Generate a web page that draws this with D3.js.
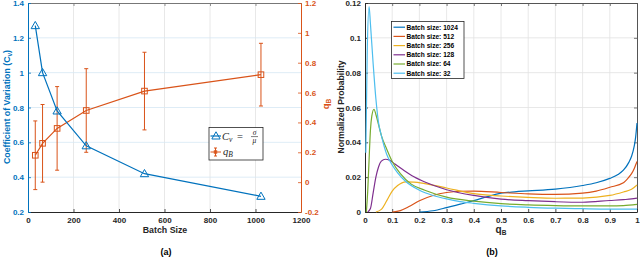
<!DOCTYPE html>
<html>
<head>
<meta charset="utf-8">
<script src="https://cdn.jsdelivr.net/npm/d3@7"></script>
<style>
body { margin: 0; background: #fff; }
svg { display: block; font-family: "Liberation Sans", Arial, sans-serif; }
</style>
</head>
<body>
<div id="chart"></div>
<script>
// ---- (a) Cv and q_B vs batch size ----
const batchSizes = [32, 64, 128, 256, 512, 1024];
const cvValues = [1.27, 1.0, 0.78, 0.58, 0.42, 0.29];
const qbMean = [0.18, 0.26, 0.36, 0.48, 0.61, 0.72];
const qbErr = [0.23, 0.26, 0.28, 0.28, 0.26, 0.21];
const xTicksA = [0, 200, 400, 600, 800, 1000, 1200];
const yTicksCv = [0.2, 0.4, 0.6, 0.8, 1, 1.2, 1.4];
const yTicksQb = [-0.2, 0, 0.2, 0.4, 0.6, 0.8, 1, 1.2];

// ---- (b) normalized probability of q_B ----
const q1024 = [0.2, 0.25, 0.3, 0.35, 0.4, 0.45, 0.5, 0.55, 0.6, 0.7, 0.8, 0.85, 0.9, 0.93, 0.95, 0.97, 0.98, 0.99, 0.995, 1.0];
const p1024 = [0, 0.0007, 0.0025, 0.0045, 0.0065, 0.0088, 0.0108, 0.0116, 0.0121, 0.0131, 0.0152, 0.0168, 0.0193, 0.0215, 0.024, 0.0285, 0.032, 0.038, 0.043, 0.051];
const q512 = [0.1, 0.13, 0.16, 0.2, 0.25, 0.3, 0.35, 0.4, 0.5, 0.6, 0.7, 0.8, 0.85, 0.9, 0.95, 0.97, 0.98, 0.99, 1.0];
const p512 = [0, 0.0008, 0.003, 0.0065, 0.0095, 0.0112, 0.0119, 0.012, 0.0112, 0.0104, 0.0101, 0.0108, 0.012, 0.0142, 0.0168, 0.02, 0.022, 0.025, 0.029];
const q256 = [0.04, 0.06, 0.08, 0.1, 0.12, 0.15, 0.18, 0.22, 0.3, 0.4, 0.5, 0.6, 0.7, 0.8, 0.9, 0.95, 0.98, 1.0];
const p256 = [0, 0.0015, 0.0065, 0.012, 0.0152, 0.0173, 0.0172, 0.0163, 0.0138, 0.0105, 0.0092, 0.0084, 0.0079, 0.008, 0.0095, 0.0115, 0.013, 0.0155];
const q128 = [0.01, 0.02, 0.03, 0.04, 0.05, 0.06, 0.075, 0.09, 0.11, 0.14, 0.18, 0.22, 0.3, 0.4, 0.5, 0.6, 0.7, 0.8, 0.9, 0.95, 0.98, 1.0];
const p128 = [0, 0.002, 0.011, 0.02, 0.026, 0.0292, 0.0303, 0.0298, 0.0275, 0.0242, 0.0202, 0.0172, 0.0128, 0.0095, 0.0074, 0.0065, 0.0059, 0.0056, 0.0066, 0.0071, 0.0075, 0.008];
const q64 = [0.005, 0.01, 0.015, 0.02, 0.025, 0.033, 0.04, 0.05, 0.06, 0.08, 0.1, 0.13, 0.17, 0.22, 0.3, 0.4, 0.5, 0.6, 0.7, 0.8, 0.9, 0.95, 1.0];
const p64 = [0, 0.012, 0.03, 0.047, 0.055, 0.059, 0.056, 0.05, 0.044, 0.036, 0.029, 0.022, 0.016, 0.0125, 0.0085, 0.0062, 0.0048, 0.0041, 0.0037, 0.0035, 0.0035, 0.0037, 0.0044];
const q32 = [0.003, 0.008, 0.015, 0.02, 0.03, 0.04, 0.05, 0.06, 0.08, 0.1, 0.12, 0.15, 0.2, 0.25, 0.3, 0.35, 0.4, 0.5, 0.6, 0.7, 0.8, 0.9, 1.0];
const p32 = [0.034, 0.09, 0.118, 0.108, 0.085, 0.065, 0.051, 0.044, 0.033, 0.027, 0.0225, 0.0175, 0.0125, 0.0095, 0.0075, 0.006, 0.005, 0.0035, 0.0027, 0.0022, 0.0019, 0.0017, 0.0017];
const seriesNames = ['Batch size: 1024', 'Batch size: 512', 'Batch size: 256', 'Batch size: 128', 'Batch size: 64', 'Batch size: 32'];
const seriesColors = ['#0072BD', '#D95319', '#EDB120', '#7E2F8E', '#77AC30', '#4DBEEE'];
const xTicksB = [0, 0.1, 0.2, 0.3, 0.4, 0.5, 0.6, 0.7, 0.8, 0.9, 1];
const yTicksB = [0, 0.02, 0.04, 0.06, 0.08, 0.1, 0.12];

const series = [[q1024, p1024], [q512, p512], [q256, p256], [q128, p128], [q64, p64], [q32, p32]]
  .map((s, i) => ({ name: seriesNames[i], color: seriesColors[i], pts: s[0].map((q, j) => [q, s[1][j]]) }));

const BLUE = '#0072BD', ORANGE = '#D95319', DARK = '#262626';
const fmt = d => String(Math.round(d * 100) / 100);

const svg = d3.select('#chart').append('svg').attr('width', 640).attr('height', 257);

function styleAxis(g, color, labels) {
  g.select('.domain').attr('stroke', color).attr('stroke-width', 1);
  g.selectAll('.tick line').attr('stroke', color).attr('stroke-width', 0.8);
  g.selectAll('.tick text').attr('fill', color).attr('font-size', 8).attr('font-weight', 'bold');
  if (!labels) g.selectAll('.tick text').remove();
}

// ================= panel (a) =================
const xA = d3.scaleLinear().domain([0, 1200]).range([28, 301]);
const yCv = d3.scaleLinear().domain([0.2, 1.4]).range([212, 3]);
const yQb = d3.scaleLinear().domain([-0.2, 1.2]).range([212, 3]);

const gA = svg.append('g');
gA.selectAll('.vgrid').data(xTicksA.slice(1, -1)).join('line')
  .attr('x1', d => xA(d)).attr('x2', d => xA(d)).attr('y1', 3).attr('y2', 212)
  .attr('stroke', '#e2e2e2').attr('stroke-width', 0.8);
gA.selectAll('.hgrid').data(yTicksCv.slice(1, -1)).join('line')
  .attr('x1', 28).attr('x2', 301).attr('y1', d => yCv(d)).attr('y2', d => yCv(d))
  .attr('stroke', '#d5e7f4').attr('stroke-width', 0.8);

gA.append('g').attr('transform', 'translate(0,3)')
  .call(d3.axisTop(xA).tickValues(xTicksA).tickSize(-3).tickSizeOuter(0))
  .call(g => styleAxis(g, '#777', false));
gA.append('g').attr('transform', 'translate(0,212)')
  .call(d3.axisBottom(xA).tickValues(xTicksA).tickSize(-3).tickSizeOuter(0).tickPadding(5).tickFormat(fmt))
  .call(g => styleAxis(g, DARK, true));
gA.append('g').attr('transform', 'translate(28,0)')
  .call(d3.axisLeft(yCv).tickValues(yTicksCv).tickSize(-3).tickSizeOuter(0).tickPadding(4).tickFormat(fmt))
  .call(g => styleAxis(g, BLUE, true));
gA.append('g').attr('transform', 'translate(301,0)')
  .call(d3.axisRight(yQb).tickValues(yTicksQb).tickSize(-3).tickSizeOuter(0).tickPadding(4).tickFormat(fmt))
  .call(g => styleAxis(g, ORANGE, true));

// q_B with error bars (right axis)
const qbData = batchSizes.map((b, i) => ({ b, m: qbMean[i], e: qbErr[i] }));
const eb = gA.selectAll('.eb').data(qbData).join('g').attr('stroke', ORANGE).attr('stroke-width', 1);
eb.append('line').attr('x1', d => xA(d.b)).attr('x2', d => xA(d.b))
  .attr('y1', d => yQb(d.m - d.e)).attr('y2', d => yQb(d.m + d.e));
eb.append('line').attr('x1', d => xA(d.b) - 2).attr('x2', d => xA(d.b) + 2)
  .attr('y1', d => yQb(d.m + d.e)).attr('y2', d => yQb(d.m + d.e));
eb.append('line').attr('x1', d => xA(d.b) - 2).attr('x2', d => xA(d.b) + 2)
  .attr('y1', d => yQb(d.m - d.e)).attr('y2', d => yQb(d.m - d.e));
gA.append('path').datum(qbData)
  .attr('d', d3.line().x(d => xA(d.b)).y(d => yQb(d.m)))
  .attr('fill', 'none').attr('stroke', ORANGE).attr('stroke-width', 1.2);
gA.selectAll('.sq').data(qbData).join('rect')
  .attr('x', d => xA(d.b) - 2.8).attr('y', d => yQb(d.m) - 2.8)
  .attr('width', 5.6).attr('height', 5.6)
  .attr('fill', 'none').attr('stroke', ORANGE).attr('stroke-width', 1);

// Cv (left axis)
const cvData = batchSizes.map((b, i) => ({ b, v: cvValues[i] }));
gA.append('path').datum(cvData)
  .attr('d', d3.line().x(d => xA(d.b)).y(d => yCv(d.v)))
  .attr('fill', 'none').attr('stroke', BLUE).attr('stroke-width', 1.2);
const tri = d3.symbol().type(d3.symbolTriangle).size(30);
gA.selectAll('.tri').data(cvData).join('path')
  .attr('transform', d => `translate(${xA(d.b)},${yCv(d.v) + 0.6})`)
  .attr('d', tri).attr('fill', 'none').attr('stroke', BLUE).attr('stroke-width', 1);

// legend (a)
const lg = gA.append('g');
lg.append('rect').attr('x', 209).attr('y', 127.5).attr('width', 54).attr('height', 32.5)
  .attr('fill', '#fff').attr('stroke', DARK).attr('stroke-width', 0.8);
lg.append('line').attr('x1', 210.5).attr('x2', 221).attr('y1', 136).attr('y2', 136)
  .attr('stroke', BLUE).attr('stroke-width', 1.2);
lg.append('path').attr('transform', 'translate(216,136.6)').attr('d', tri)
  .attr('fill', 'none').attr('stroke', BLUE).attr('stroke-width', 1);
const t1 = lg.append('text').attr('x', 222).attr('y', 139.5)
  .attr('font-family', '"Liberation Serif", "DejaVu Serif", serif').attr('font-size', 10.5).attr('fill', DARK);
t1.append('tspan').attr('font-style', 'italic').text('C');
t1.append('tspan').attr('font-style', 'italic').attr('font-size', 7.5).attr('dy', 2).text('v');
t1.append('tspan').attr('x', 237).attr('dy', -2).text('=');
lg.append('text').attr('x', 254.5).attr('y', 134.5).attr('text-anchor', 'middle')
  .attr('font-family', '"Liberation Serif", serif').attr('font-style', 'italic').attr('font-size', 7.5).attr('fill', DARK).text('σ');
lg.append('line').attr('x1', 251).attr('x2', 258).attr('y1', 136.6).attr('y2', 136.6).attr('stroke', DARK).attr('stroke-width', 0.6);
lg.append('text').attr('x', 254.5).attr('y', 143).attr('text-anchor', 'middle')
  .attr('font-family', '"Liberation Serif", serif').attr('font-style', 'italic').attr('font-size', 7.5).attr('fill', DARK).text('μ');
const lgEb = lg.append('g').attr('stroke', ORANGE).attr('stroke-width', 1);
lgEb.append('line').attr('x1', 210.5).attr('x2', 221).attr('y1', 152).attr('y2', 152);
lgEb.append('line').attr('x1', 215.5).attr('x2', 215.5).attr('y1', 148).attr('y2', 156);
lgEb.append('line').attr('x1', 214).attr('x2', 217).attr('y1', 148).attr('y2', 148);
lgEb.append('line').attr('x1', 214).attr('x2', 217).attr('y1', 156).attr('y2', 156);
lgEb.append('rect').attr('x', 214.3).attr('y', 150.8).attr('width', 2.4).attr('height', 2.4).attr('fill', 'none');
const t2 = lg.append('text').attr('x', 223).attr('y', 154.5)
  .attr('font-family', '"Liberation Serif", serif').attr('font-size', 10.5).attr('fill', DARK);
t2.append('tspan').attr('font-style', 'italic').text('q');
t2.append('tspan').attr('font-style', 'italic').attr('font-size', 7.5).attr('dy', 2).text('B');

// labels (a)
const yl = svg.append('text').attr('transform', 'translate(10,107) rotate(-90)')
  .attr('text-anchor', 'middle').attr('font-size', 8.8).attr('font-weight', 'bold').attr('fill', BLUE);
yl.append('tspan').text('Coefficient of Variation (C');
yl.append('tspan').attr('font-size', 6.5).attr('dy', 2).text('v');
yl.append('tspan').attr('dy', -2).text(')');
const yr = svg.append('text').attr('transform', 'translate(329,104) rotate(-90)')
  .attr('text-anchor', 'middle').attr('font-size', 9.5).attr('font-weight', 'bold').attr('fill', ORANGE);
yr.append('tspan').text('q');
yr.append('tspan').attr('font-size', 6.5).attr('dy', 2).text('B');
svg.append('text').attr('x', 165).attr('y', 233).attr('text-anchor', 'middle')
  .attr('font-size', 8.8).attr('font-weight', 'bold').attr('fill', DARK).text('Batch Size');
svg.append('text').attr('x', 166).attr('y', 255).attr('text-anchor', 'middle')
  .attr('font-size', 9).attr('font-weight', 'bold').attr('fill', '#000').text('(a)');

// ================= panel (b) =================
const xB = d3.scaleLinear().domain([0, 1]).range([365, 637]);
const yB = d3.scaleLinear().domain([0, 0.12]).range([212, 3]);

const gB = svg.append('g');
gB.selectAll('.vgrid').data(xTicksB.slice(1, -1)).join('line')
  .attr('x1', d => xB(d)).attr('x2', d => xB(d)).attr('y1', 3).attr('y2', 212)
  .attr('stroke', '#e2e2e2').attr('stroke-width', 0.8);
gB.selectAll('.hgrid').data(yTicksB.slice(1, -1)).join('line')
  .attr('x1', 365).attr('x2', 637).attr('y1', d => yB(d)).attr('y2', d => yB(d))
  .attr('stroke', '#e2e2e2').attr('stroke-width', 0.8);

gB.append('g').attr('transform', 'translate(0,3)')
  .call(d3.axisTop(xB).tickValues(xTicksB).tickSize(-3).tickSizeOuter(0))
  .call(g => styleAxis(g, '#555', false));
gB.append('g').attr('transform', 'translate(637,0)')
  .call(d3.axisRight(yB).tickValues(yTicksB).tickSize(-3).tickSizeOuter(0))
  .call(g => styleAxis(g, '#555', false));
gB.append('g').attr('transform', 'translate(0,212)')
  .call(d3.axisBottom(xB).tickValues(xTicksB).tickSize(-3).tickSizeOuter(0).tickPadding(5).tickFormat(fmt))
  .call(g => styleAxis(g, DARK, true));
gB.append('g').attr('transform', 'translate(365,0)')
  .call(d3.axisLeft(yB).tickValues(yTicksB).tickSize(-3).tickSizeOuter(0).tickPadding(4).tickFormat(fmt))
  .call(g => styleAxis(g, DARK, true));

const lineB = d3.line().x(d => xB(d[0])).y(d => yB(d[1])).curve(d3.curveMonotoneX);
gB.selectAll('.curve').data(series).join('path')
  .attr('d', d => lineB(d.pts))
  .attr('fill', 'none').attr('stroke', d => d.color).attr('stroke-width', 1.2);

// legend (b)
const lgB = gB.append('g');
lgB.append('rect').attr('x', 391.5).attr('y', 21.5).attr('width', 72.5).attr('height', 57)
  .attr('fill', '#fff').attr('stroke', DARK).attr('stroke-width', 0.8);
const rows = lgB.selectAll('.row').data(series).join('g')
  .attr('transform', (d, i) => `translate(0,${27.2 + i * 9.2})`);
rows.append('line').attr('x1', 393.5).attr('x2', 405).attr('y1', 0).attr('y2', 0)
  .attr('stroke', d => d.color).attr('stroke-width', 1.2);
rows.append('text').attr('x', 406.5).attr('y', 2.4)
  .attr('font-size', 6.6).attr('font-weight', 'bold').attr('fill', '#000').text(d => d.name);

// labels (b)
svg.append('text').attr('transform', 'translate(344,107) rotate(-90)')
  .attr('text-anchor', 'middle').attr('font-size', 8.6).attr('font-weight', 'bold').attr('fill', DARK)
  .text('Normalized Probability');
const xl = svg.append('text').attr('x', 501).attr('y', 233).attr('text-anchor', 'middle')
  .attr('font-size', 10).attr('font-weight', 'bold').attr('fill', DARK);
xl.append('tspan').text('q');
xl.append('tspan').attr('font-size', 6.5).attr('dy', 1.5).text('B');
svg.append('text').attr('x', 492).attr('y', 255).attr('text-anchor', 'middle')
  .attr('font-size', 9).attr('font-weight', 'bold').attr('fill', '#000').text('(b)');
</script>
</body>
</html>
